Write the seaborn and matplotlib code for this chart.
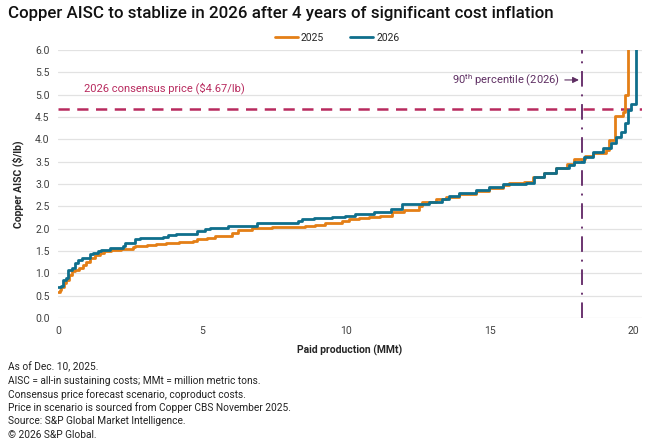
import matplotlib
matplotlib.use('Agg')

import matplotlib.pyplot as plt
import pandas as pd
import seaborn as sns

# =========================================================
# DATA
# =========================================================

prod_2025 = [0.00, 0.06, 0.12, 0.20, 0.30, 0.40, 0.48, 0.58, 0.75, 0.87,
             0.99, 1.10, 1.28, 1.45, 1.60, 1.86, 2.20, 2.61, 2.67, 3.08,
             3.40, 3.77, 4.20, 4.70, 4.82, 5.17, 5.46, 6.04, 6.27, 6.74,
             7.43, 8.60, 8.94, 9.29, 9.87, 10.10, 10.45, 10.80, 11.20, 11.61,
             12.02, 12.54, 12.66, 13.12, 13.47, 13.94, 14.52, 14.98, 15.45, 15.68,
             16.20, 16.50, 16.90, 17.30, 17.70, 17.94, 18.30, 18.58, 19.05, 19.16,
             19.34, 19.63, 19.69, 19.80]
aisc_2025 = [0.57, 0.63, 0.70, 0.78, 0.85, 0.95, 1.04, 1.08, 1.11, 1.19,
             1.26, 1.34, 1.41, 1.45, 1.50, 1.53, 1.55, 1.58, 1.61, 1.64,
             1.66, 1.68, 1.70, 1.73, 1.76, 1.79, 1.84, 1.90, 1.97, 2.01,
             2.04, 2.06, 2.09, 2.13, 2.18, 2.21, 2.24, 2.26, 2.29, 2.37,
             2.41, 2.50, 2.60, 2.66, 2.71, 2.77, 2.85, 2.92, 2.98, 3.01,
             3.05, 3.15, 3.25, 3.35, 3.45, 3.57, 3.63, 3.70, 3.76, 3.98,
             4.52, 4.62, 5.00, 8.00]

prod_2026 = [0.00, 0.10, 0.18, 0.30, 0.35, 0.50, 0.58, 0.70, 0.85, 1.10,
             1.22, 1.40, 1.51, 1.80, 2.26, 2.35, 2.67, 2.85, 3.66, 3.83,
             4.10, 4.82, 5.10, 5.28, 5.92, 6.91, 8.36, 8.47, 8.89, 9.52,
             9.99, 10.34, 10.98, 11.56, 11.96, 12.89, 13.36, 13.59, 13.94, 14.52,
             14.98, 15.45, 16.26, 16.55, 16.90, 17.31, 17.77, 17.94, 18.29, 18.58,
             18.93, 19.22, 19.40, 19.57, 19.69, 19.80, 19.92, 20.07]
aisc_2026 = [0.68, 0.72, 0.85, 0.90, 1.07, 1.12, 1.22, 1.30, 1.35, 1.42,
             1.45, 1.50, 1.52, 1.56, 1.60, 1.67, 1.76, 1.79, 1.82, 1.85,
             1.87, 1.95, 1.98, 2.01, 2.06, 2.13, 2.18, 2.21, 2.23, 2.27,
             2.28, 2.32, 2.38, 2.43, 2.55, 2.60, 2.66, 2.73, 2.79, 2.87,
             2.94, 3.00, 3.03, 3.16, 3.25, 3.35, 3.42, 3.50, 3.61, 3.72,
             3.80, 3.91, 4.06, 4.17, 4.36, 4.66, 4.80, 8.00]

consensus_price = 4.67
p90_2026 = 18.2

x_ticks = [0, 5, 10, 15, 20]
y_ticks = [0.0, 0.5, 1.0, 1.5, 2.0, 2.5, 3.0, 3.5, 4.0, 4.5, 5.0, 5.5, 6.0]

footnotes = [
    "As of Dec. 10, 2025.",
    "AISC = all-in sustaining costs; MMt = million metric tons.",
    "Consensus price forecast scenario, coproduct costs.",
    "Price in scenario is sourced from Copper CBS November 2025.",
    "Source: S&P Global Market Intelligence.",
    "\u00a9 2026 S&P Global.",
]

colors = {"2025": "#E47F16", "2026": "#0F6F8C"}

# =========================================================
# PLOT
# =========================================================

sns.set_theme(style="white")
plt.rcParams['font.family'] = ['Roboto', 'DejaVu Sans']
plt.rcParams['mathtext.fontset'] = 'custom'
plt.rcParams['mathtext.rm'] = 'Roboto'

df = pd.concat([
    pd.DataFrame({"production": prod_2025, "aisc": aisc_2025, "year": "2025"}),
    pd.DataFrame({"production": prod_2026, "aisc": aisc_2026, "year": "2026"}),
], ignore_index=True)

fig = plt.figure(figsize=(6.5, 4.47), dpi=100)
ax = fig.add_axes([0.089, 0.289, 0.899, 0.599])

sns.lineplot(data=df, x="production", y="aisc", hue="year", palette=colors,
             estimator=None, errorbar=None, drawstyle="steps-post",
             linewidth=2, ax=ax)

ax.axhline(consensus_price, color="#B82A5E", lw=1.8, ls=(0, (4.5, 3)), zorder=1)
ax.text(0.9, consensus_price + 0.47, "2026 consensus price ($4.67/lb)",
        color="#B82A5E", fontsize=8, va="center")

ax.axvline(p90_2026, color="#6B3470", lw=1.4, ls=(0, (8, 4, 1, 4)), zorder=1)
ax.annotate(r"90$^{\mathrm{th}}$ percentile (2026)", xy=(p90_2026 - 0.1, 5.33),
            xytext=(p90_2026 - 0.75, 5.33), color="#5E2E62", fontsize=8,
            va="center", ha="right",
            arrowprops=dict(arrowstyle="-|>", color="#5E2E62", lw=0.8,
                            mutation_scale=9, shrinkA=1, shrinkB=0))

ax.set_xlim(0, 20.3)
ax.set_ylim(0, 6)
ax.set_xticks(x_ticks)
ax.set_yticks(y_ticks)
ax.set_yticklabels([f"{v:.1f}" for v in y_ticks])
ax.yaxis.grid(True, color="#E2E2E2", lw=0.9)
ax.xaxis.grid(False)
for s in ax.spines.values():
    s.set_visible(False)
ax.tick_params(axis="both", length=0, labelsize=7.5, labelcolor="#404040", pad=6)

ax.set_xlabel("Paid production (MMt)", fontsize=7.5, fontweight="bold", labelpad=6)
ax.set_ylabel("Copper AISC ($/lb)", fontsize=7.5, fontweight="bold", labelpad=8)

handles, labels = ax.get_legend_handles_labels()
ax.legend(handles, labels, loc="center", bbox_to_anchor=(0.478, 1.045), ncol=2,
          frameon=False, fontsize=7.5, handlelength=2.2, columnspacing=2.5,
          handletextpad=0.3)

fig.text(0.012, 0.97, "Copper AISC to stablize in 2026 after 4 years of significant cost inflation",
         fontsize=12.2, fontweight="medium", va="center", ha="left", color="#111111")

for i, line in enumerate(footnotes):
    fig.text(0.012, 1 - (367 + i * 13.6) / 447, line, fontsize=7.3,
             va="center", ha="left", color="#222222")

fig.savefig("out.png", dpi=100)
plt.close(fig)
